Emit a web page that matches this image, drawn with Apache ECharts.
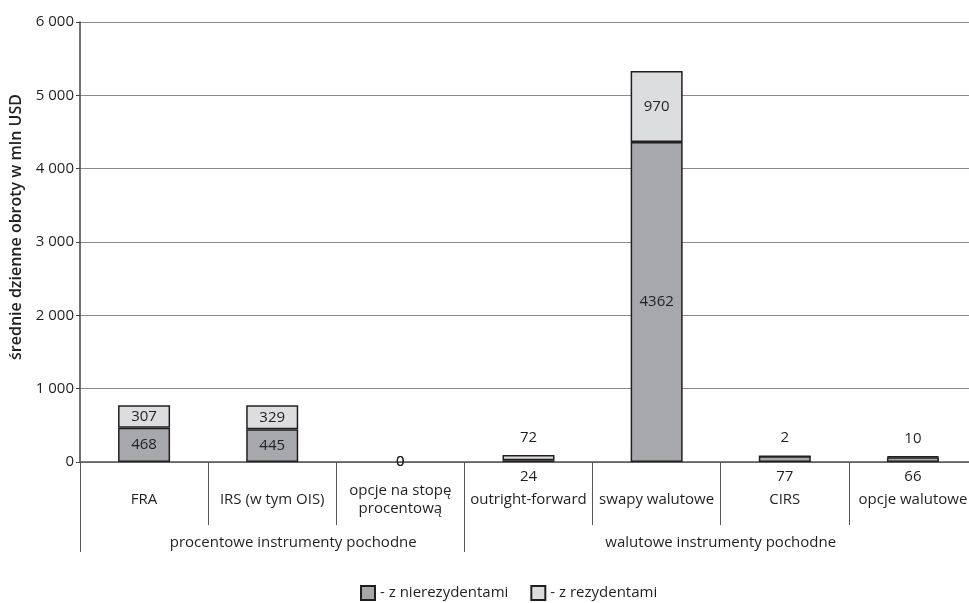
<!DOCTYPE html>
<html>
<head>
<meta charset="utf-8">
<script src="https://cdn.jsdelivr.net/npm/echarts@6/dist/echarts.min.js"></script>
<style>
  html, body { margin: 0; padding: 0; background: #fff; }
  #wykres { width: 969px; height: 603px; }
</style>
</head>
<body>
<div id="wykres"></div>
<script>
// Dane (średnie dzienne obroty w mln USD)
const kategorie = ['FRA', 'IRS (w tym OIS)', 'opcje na stopę\nprocentową', 'outright-forward', 'swapy walutowe', 'CIRS', 'opcje walutowe'];
const zNierezydentami = [468, 445, 0, 24, 4362, 77, 66];
const zRezydentami = [307, 329, 0, 72, 970, 2, 10];
const grupy = ['procentowe instrumenty pochodne', 'walutowe instrumenty pochodne'];
const liczbaWGrupie = [3, 4];
const etykietyOsiY = [0, 1000, 2000, 3000, 4000, 5000, 6000];

const czcionka = '"Open Sans", "Noto Sans", sans-serif';
const kolorTekstu = '#231f20';
const rozmiar = 15;

// Oś pomocnicza grup: 2 pozycje na kategorię, granice i środki grup
const osGrup = new Array(kategorie.length * 2 + 1).fill('');
const granice = [0];
let start = 0;
grupy.forEach((nazwa, i) => {
  osGrup[2 * start + liczbaWGrupie[i]] = nazwa;
  start += liczbaWGrupie[i];
  granice.push(2 * start);
});
// pierwsza etykieta grupy jest w oryginale lekko przesunięta w prawo
const daneOsiGrup = osGrup.map((v, i) => i === 3
  ? { value: v, textStyle: { padding: [0, 0, 0, 42], verticalAlign: 'middle' } }
  : v);

const mala = (i) => zNierezydentami[i] + zRezydentami[i] < 200;

function daneSerii(wartosci, ciemna) {
  return wartosci.map((v, i) => {
    let label = { position: 'inside' };
    if (v !== 0 && mala(i)) {
      label = ciemna ? { position: 'bottom', distance: 7 } : { position: 'top', distance: 10 };
    }
    const item = { value: v, label: label };
    // słupki zerowe nie mają widocznej ramki
    if (v === 0) item.itemStyle = { borderWidth: 0 };
    return item;
  });
}

const wspolnaEtykieta = {
  show: true,
  color: kolorTekstu,
  fontFamily: czcionka,
  fontSize: rozmiar
};

const wykres = echarts.init(document.getElementById('wykres'));
wykres.setOption({
  animation: false,
  textStyle: { fontFamily: czcionka },
  grid: { left: 80, top: 22, width: 897, height: 440, outerBoundsMode: 'none' },
  legend: {
    top: 580,
    left: 355,
    itemWidth: 14,
    itemHeight: 14,
    itemGap: 22,
    icon: 'rect',
    textStyle: { fontFamily: czcionka, fontSize: rozmiar, color: kolorTekstu },
    data: ['- z nierezydentami', '- z rezydentami']
  },
  xAxis: [
    {
      type: 'category',
      data: kategorie,
      axisLine: { lineStyle: { color: '#555', width: 1.5 } },
      axisTick: { show: true, interval: 0, length: 63, lineStyle: { color: '#555', width: 1 } },
      axisLabel: {
        interval: 0,
        margin: 38,
        verticalAlign: 'middle',
        lineHeight: 18,
        color: kolorTekstu,
        fontFamily: czcionka,
        fontSize: rozmiar
      }
    },
    {
      type: 'category',
      position: 'bottom',
      boundaryGap: false,
      data: daneOsiGrup,
      axisLine: { show: false },
      axisTick: {
        show: true,
        length: 90,
        interval: (i) => granice.includes(i),
        lineStyle: { color: '#555', width: 1 }
      },
      axisLabel: {
        interval: 0,
        margin: 81,
        verticalAlign: 'middle',
        color: kolorTekstu,
        fontFamily: czcionka,
        fontSize: rozmiar
      }
    }
  ],
  yAxis: {
    type: 'value',
    min: etykietyOsiY[0],
    max: etykietyOsiY[etykietyOsiY.length - 1],
    interval: 1000,
    name: 'średnie dzienne obroty w mln USD',
    nameLocation: 'middle',
    nameGap: 46,
    nameTextStyle: {
      fontFamily: czcionka,
      fontSize: 16,
      fontWeight: 600,
      color: kolorTekstu,
      padding: [0, 0, 0, 30]
    },
    axisLine: { show: true, lineStyle: { color: '#444', width: 1.5 } },
    axisTick: { show: true, length: 4, lineStyle: { color: '#444' } },
    axisLabel: {
      margin: 6,
      color: kolorTekstu,
      fontFamily: czcionka,
      fontSize: rozmiar,
      formatter: (v) => String(v).replace(/\B(?=(\d{3})+(?!\d))/g, ' ')
    },
    splitLine: { show: true, lineStyle: { color: '#8a8a8a', width: 1 } }
  },
  series: [
    {
      name: '- z nierezydentami',
      type: 'bar',
      stack: 'obroty',
      barWidth: 52,
      itemStyle: { color: '#a7a8ab', borderColor: '#231f20', borderWidth: 1.5 },
      label: wspolnaEtykieta,
      data: daneSerii(zNierezydentami, true)
    },
    {
      name: '- z rezydentami',
      type: 'bar',
      stack: 'obroty',
      barWidth: 52,
      itemStyle: { color: '#dcdddf', borderColor: '#231f20', borderWidth: 1.5 },
      label: wspolnaEtykieta,
      data: daneSerii(zRezydentami, false)
    }
  ]
});
</script>
</body>
</html>
